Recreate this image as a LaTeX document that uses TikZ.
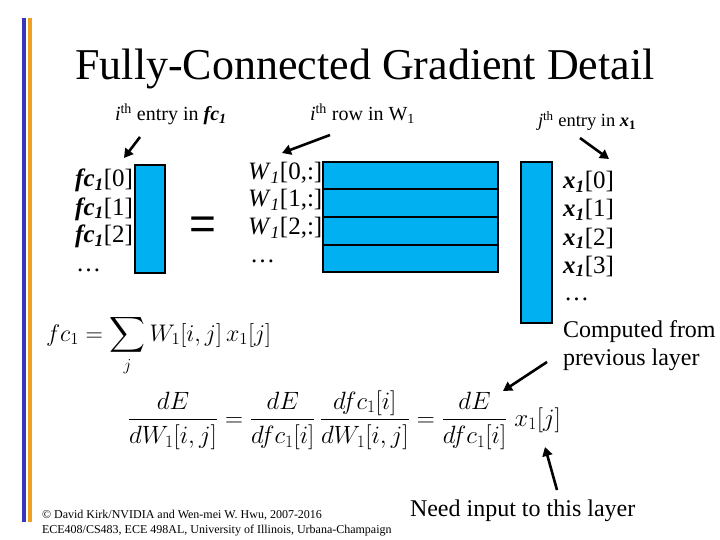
\RequirePackage{fix-cm}
\documentclass[tikz,border=0pt]{standalone}
\usepackage{amsmath}
\usepackage{fontspec}
\setmainfont{Liberation Serif}
\newfontfamily\arialfont{Liberation Sans}
\usetikzlibrary{arrows.meta}
\definecolor{cellblue}{RGB}{0,176,240}
\definecolor{barblue}{RGB}{55,55,185}
\definecolor{barorange}{RGB}{240,160,30}
\newcommand{\fcv}{\textbf{\textit{fc}\textsubscript{\textit{1}}}}
\newcommand{\xv}{\textbf{\textit{x}\textsubscript{\textit{1}}}}
\newcommand{\Wv}{\textit{W}\textsubscript{\textit{1}}}
\begin{document}
\begin{tikzpicture}[x=1pt,y=-1pt,
  cell/.style={draw=black, line width=2pt, fill=cellblue, inner sep=0pt},
  txt/.style={inner sep=0pt, outer sep=0pt},
  thickarrow/.style={line width=2.6pt, -{Triangle[length=9pt,width=10pt]}},
  vecfont/.style={font=\fontsize{25}{28}\selectfont},
  lblfont/.style={font=\fontsize{20}{22}\selectfont},
  notefont/.style={font=\fontsize{24}{28}\selectfont}]
\useasboundingbox (0,0) rectangle (720,540);
\fill[white] (0,0) rectangle (720,540);
% side bars
\fill[barblue] (22,18) rectangle (26,522);
\fill[barorange] (28,18) rectangle (32,522);
% title
\node[txt, anchor=base, font=\fontsize{44}{48}\selectfont] (title) at (365,80) {Fully-Connected Gradient Detail};
% top labels
\node[txt, anchor=base west, lblfont] (lblfc) at (115,121) {\textit{i}\textsuperscript{th} entry in \textbf{\textit{fc}\textsubscript{\textit{1}}}};
\node[txt, anchor=base west, lblfont] (lblw) at (310,121) {\textit{i}\textsuperscript{th} row in W\textsubscript{1}};
\node[txt, anchor=base west, font=\fontsize{18.5}{20}\selectfont] (lblx) at (538,127) {\textit{j}\textsuperscript{th} entry in \textbf{\textit{x}\textsubscript{1}}};
% blocks
\node[cell, minimum width=30pt, minimum height=108pt] (fcvec) at (150,219) {};
\node[cell, minimum width=175pt, minimum height=27.5pt] (w0) at (410.5,175.75) {};
\node[cell, minimum width=175pt, minimum height=27.5pt] (w1) at (410.5,203.25) {};
\node[cell, minimum width=175pt, minimum height=27.5pt] (w2) at (410.5,230.75) {};
\node[cell, minimum width=175pt, minimum height=27.5pt] (w3) at (410.5,258.25) {};
\node[cell, minimum width=31pt, minimum height=161pt] (xvec) at (536.5,242.5) {};
% fc labels
\node[txt, anchor=base east, vecfont] (fc0) at (133,187) {\fcv[0]};
\node[txt, anchor=base east, vecfont] (fc1) at (133,215) {\fcv[1]};
\node[txt, anchor=base east, vecfont] (fc2) at (133,243) {\fcv[2]};
\node[txt, anchor=base west, vecfont] (fcd) at (76,271) {\dots};
% equals
\node[txt, font=\arialfont\fontsize{46}{50}\selectfont] (eq) at (203,228) {=};
% W labels
\node[txt, anchor=base west, vecfont] (wl0) at (248,180) {\Wv[0,:]};
\node[txt, anchor=base west, vecfont] (wl1) at (248,207) {\Wv[1,:]};
\node[txt, anchor=base west, vecfont] (wl2) at (248,235) {\Wv[2,:]};
\node[txt, anchor=base west, vecfont] (wld) at (250,262) {\dots};
% x labels
\node[txt, anchor=base west, vecfont] (xl0) at (563,189) {\xv[0]};
\node[txt, anchor=base west, vecfont] (xl1) at (563,217) {\xv[1]};
\node[txt, anchor=base west, vecfont] (xl2) at (563,245) {\xv[2]};
\node[txt, anchor=base west, vecfont] (xl3) at (563,273) {\xv[3]};
\node[txt, anchor=base west, vecfont] (xld) at (564,300) {\dots};
\node[txt, anchor=base west, notefont] (comp) at (563,337) {Computed from};
\node[txt, anchor=base west, notefont] (prev) at (563,365) {previous layer};
% formulas
\node[txt, anchor=base west, font=\fontsize{24}{28}\selectfont] (sumf) at (46,341) {$\displaystyle fc_1=\sum_j W_1[i,j]\,x_1[j]$};
\node[txt, anchor=west, font=\fontsize{25}{30}\selectfont] (grad) at (128,420) {$\displaystyle \frac{dE}{dW_1[i,j]}=\frac{dE}{dfc_1[i]}\,\frac{dfc_1[i]}{dW_1[i,j]}=\frac{dE}{dfc_1[i]}\;x_1[j]$};
% bottom
\node[txt, anchor=base west, notefont] (need) at (410,516) {Need input to this layer};
\node[txt, anchor=base west, font=\fontsize{12}{14}\selectfont] (copy1) at (42,518) {\copyright{} David Kirk/NVIDIA and Wen-mei W. Hwu, 2007-2016};
\node[txt, anchor=base west, font=\fontsize{12}{14}\selectfont] (copy2) at (42,533) {ECE408/CS483, ECE 498AL, University of Illinois, Urbana-Champaign};
% arrows
\coordinate (a1s) at (140,137); \coordinate (a1e) at (124,158);
\coordinate (a2s) at (330,135); \coordinate (a2e) at (282,153);
\coordinate (a3s) at (580,138); \coordinate (a3e) at (609,159);
\coordinate (a4s) at (547,362); \coordinate (a4e) at (503,391);
\coordinate (a5s) at (557,490); \coordinate (a5e) at (545,447);
\draw[thickarrow] (a1s) -- (a1e);
\draw[thickarrow] (a2s) -- (a2e);
\draw[thickarrow] (a3s) -- (a3e);
\draw[thickarrow] (a4s) -- (a4e);
\draw[thickarrow] (a5s) -- (a5e);
\end{tikzpicture}
\end{document}
